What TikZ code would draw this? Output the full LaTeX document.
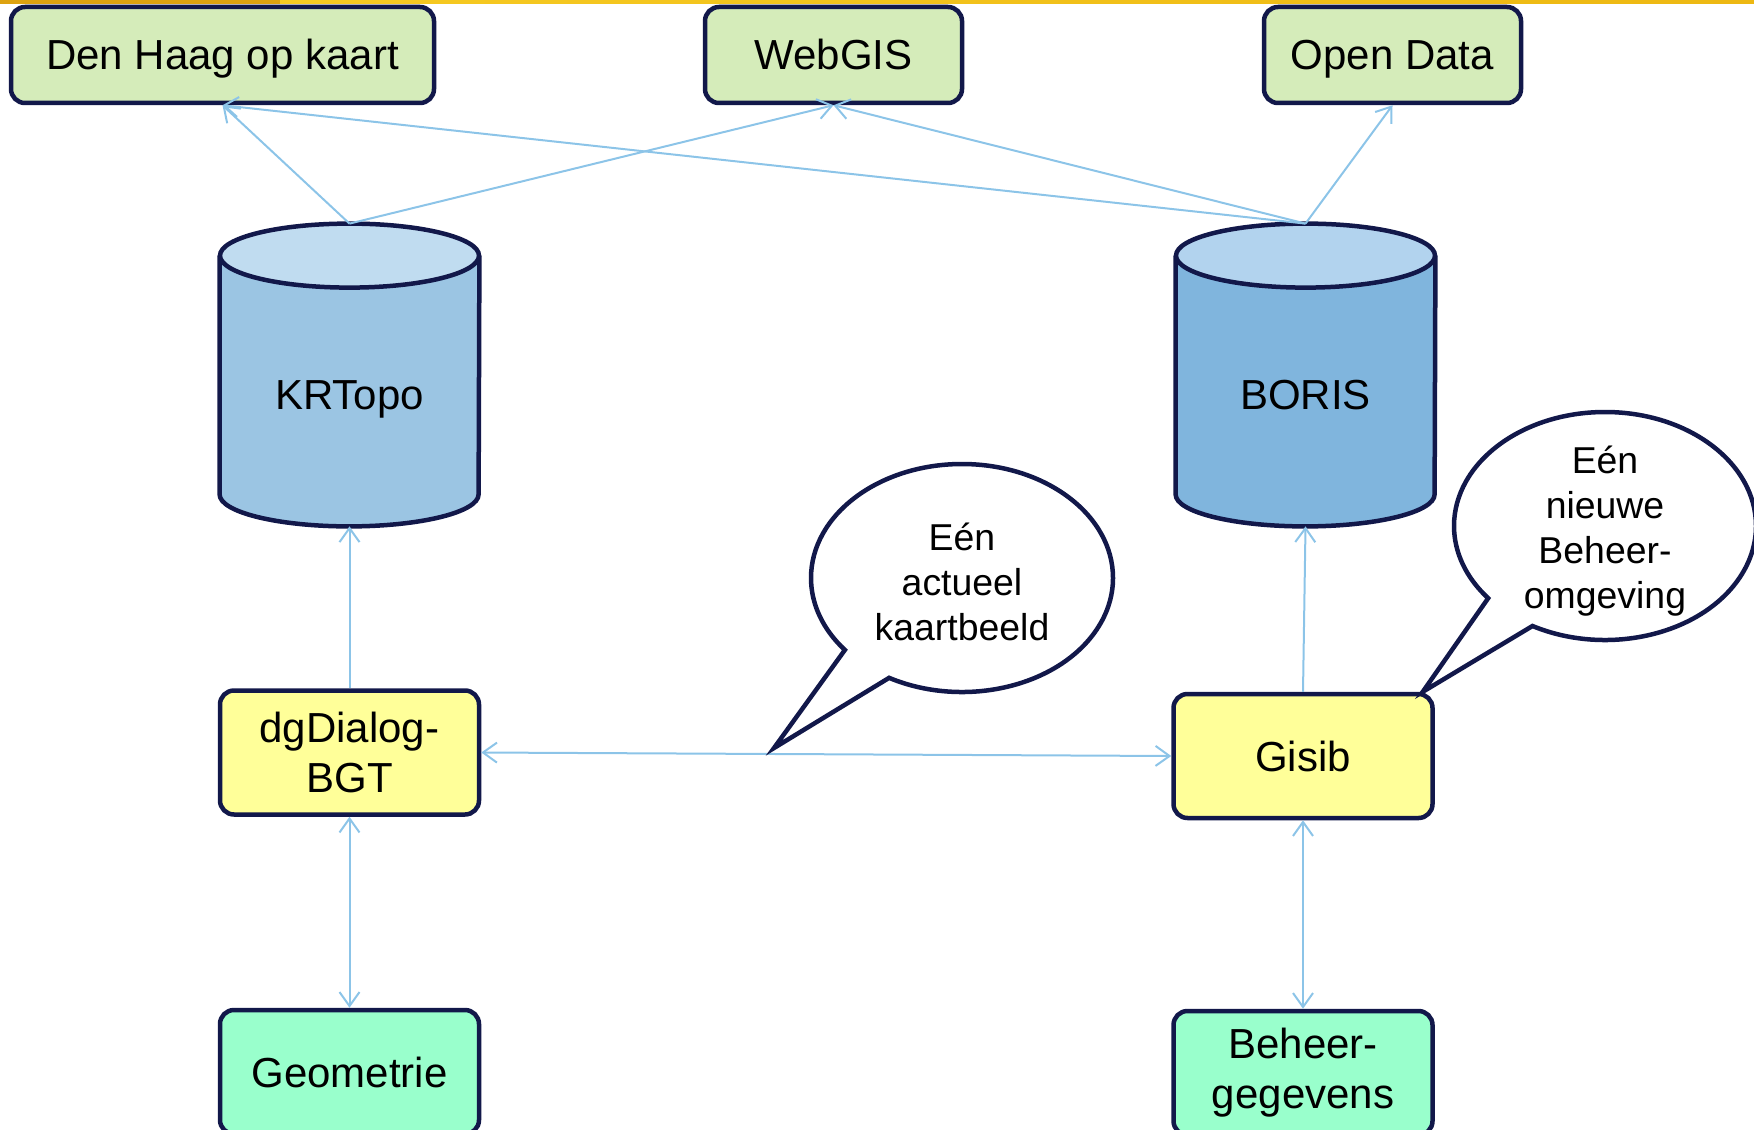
\documentclass[tikz,border=0pt]{standalone}
\usepackage{fontspec}
\setmainfont{Liberation Sans}
\usetikzlibrary{arrows.meta,shapes.callouts}

\definecolor{navy}{HTML}{12184A}
\definecolor{linkblue}{HTML}{8CC4E8}
\definecolor{appgreen}{HTML}{D5ECBA}
\definecolor{toolyellow}{HTML}{FFFF99}
\definecolor{datamint}{HTML}{99FFCC}
\definecolor{krbody}{HTML}{9BC5E3}
\definecolor{krlid}{HTML}{C0DCF0}
\definecolor{borisbody}{HTML}{80B5DD}
\definecolor{borislid}{HTML}{B2D3EE}
\definecolor{bargold}{HTML}{DDA210}
\definecolor{baryellow}{HTML}{F6CA22}
\definecolor{barright}{HTML}{EDB812}

% cylinder round a named node: name, body colour, lid colour
\newcommand{\dbcylinder}[3]{%
  \fill[#2] (#1.north west) -- ([yshift=16pt]#1.south west)
    arc[start angle=180,end angle=360,x radius=64.75pt,y radius=16pt]
    -- (#1.north east) -- cycle;
  \draw[navy,line width=2.25pt] (#1.north west) -- ([yshift=16pt]#1.south west)
    arc[start angle=180,end angle=360,x radius=64.75pt,y radius=16pt]
    -- (#1.north east);
  \filldraw[fill=#3,draw=navy,line width=2.25pt] (#1.north)
    ellipse[x radius=64.75pt,y radius=16pt];
  \coordinate (#1 top) at ([yshift=16pt]#1.north);
}

\tikzset{
  box/.style={draw=navy, line width=2.25pt, rounded corners=7pt, inner sep=0pt,
    minimum width=129.5pt, minimum height=62pt, align=center,
    font=\fontsize{21}{25}\selectfont},
  oneline/.style={text height=15pt, text depth=0pt},
  appbox/.style={box, oneline, fill=appgreen, minimum height=48pt},
  toolbox/.style={box, fill=toolyellow},
  databox/.style={box, fill=datamint},
  dbnode/.style={inner sep=0pt, minimum width=129.5pt, minimum height=135pt},
  dblabel/.style={oneline, inner sep=0pt, font=\fontsize{21}{25}\selectfont},
  bubble/.style={ellipse callout, draw=navy, fill=white, line width=2.25pt,
    inner sep=0pt, minimum width=151pt, minimum height=114pt,
    callout pointer arc=22},
  bubbletext/.style={align=center, inner sep=0pt, font=\fontsize{18.7}{22.4}\selectfont},
  link/.style={linkblue, line width=1pt, -{Straight Barb[length=7pt,width=10pt]}},
  linkboth/.style={link, {Straight Barb[length=7pt,width=10pt]}-{Straight Barb[length=7pt,width=10pt]}}
}

\begin{document}
\begin{tikzpicture}[x=0.5pt,y=-0.5pt]
  \useasboundingbox (0,0) rectangle (1754,1129);

  % band along the top
  \fill[bargold] (0,0) rectangle (280,4);
  \shade[left color=baryellow,right color=barright] (280,0) rectangle (1754,4);

  % applications
  \node[appbox, minimum width=211.5pt] (denhaag) at (222.5,55) {Den Haag op kaart};
  \node[appbox, minimum width=128.5pt] (webgis) at (833.5,55) {WebGIS};
  \node[appbox, minimum width=128.5pt] (opendata) at (1392.5,55) {Open Data};

  % databases
  \node[dbnode] (krtopo) at (349.5,391) {};
  \dbcylinder{krtopo}{krbody}{krlid}
  \node[dblabel] (krtopo label) at (349.5,394) {KRTopo};
  \node[dbnode] (boris) at (1305.5,391) {};
  \dbcylinder{boris}{borisbody}{borislid}
  \node[dblabel] (boris label) at (1305.5,394) {BORIS};

  % tools and sources
  \node[toolbox] (dgdialog) at (349.5,752.5) {dgDialog-\\BGT};
  \node[toolbox] (gisib) at (1303,756) {Gisib};
  \node[databox] (geometrie) at (349.5,1072) {Geometrie};
  \node[databox] (beheer) at (1303,1073) {Beheer-\\gegevens};

  \draw[link] (krtopo top) -- (denhaag.south);
  \draw[link] (krtopo top) -- (webgis.south);
  \draw[link] (boris top) -- (denhaag.south);
  \draw[link] (boris top) -- (webgis.south);
  \draw[link] (boris top) -- (opendata.south);
  \draw[link] (dgdialog.north) -- (krtopo.south);
  \draw[link] (gisib.north) -- (boris.south);
  \draw[linkboth] (dgdialog.south) -- (geometrie.north);
  \draw[linkboth] (gisib.south) -- (beheer.north);
  \draw[linkboth] (dgdialog.east) -- (gisib.west);

  % speech bubbles
  \coordinate (kaarttip) at (774,748);
  \node[bubble, callout absolute pointer={(kaarttip)}] (kaartbeeld) at (962,578) {};
  \node[bubbletext] (kaartbeeld text) at (962,582) {Eén\\actueel\\kaartbeeld};
  \node[bubble, callout absolute pointer={([xshift=-6pt]gisib.north east)}] (omgeving)
    at (1605,526) {};
  \node[bubbletext] (omgeving text) at (1605,531) {Eén\\nieuwe\\Beheer-\\omgeving};
\end{tikzpicture}
\end{document}
